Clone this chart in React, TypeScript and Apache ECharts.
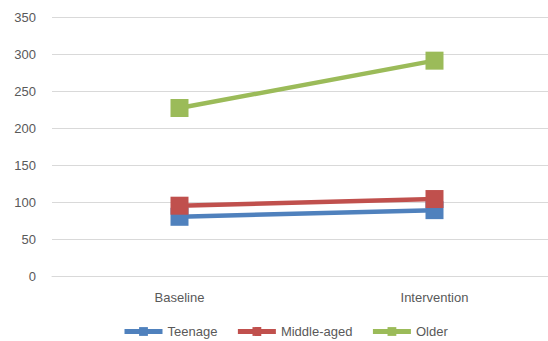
import React, { useEffect, useRef } from "react";
import * as echarts from "echarts";

const categories = ["Baseline", "Intervention"];
const teenage = [80, 89];
const middleAged = [95, 104];
const older = [227, 291];
const yTicks = { min: 0, max: 350, interval: 50 };

export default function App() {
  const ref = useRef<HTMLDivElement>(null);
  useEffect(() => {
    const chart = echarts.init(ref.current!, null, { renderer: "svg" });
    const font = "'Liberation Sans', Arial, sans-serif";
    const mk = (name: string, data: number[], color: string) => ({
      name,
      type: "line",
      data,
      symbol: "rect",
      symbolSize: 18,
      lineStyle: { width: 4.5, color },
      itemStyle: { color },
      z: 2,
    });
    chart.setOption({
      animation: false,
      backgroundColor: "#fff",
      textStyle: { fontFamily: font },
      grid: { left: 52, right: 2, top: 17, bottom: 65 },
      xAxis: {
        type: "category",
        data: categories,
        boundaryGap: true,
        axisLine: { lineStyle: { color: "#d9d9d9", width: 1 } },
        axisTick: { show: false },
        axisLabel: { color: "#595959", fontSize: 13, margin: 15, fontFamily: font },
      },
      yAxis: {
        type: "value",
        min: yTicks.min,
        max: yTicks.max,
        interval: yTicks.interval,
        axisLine: { show: false },
        axisTick: { show: false },
        axisLabel: { color: "#595959", fontSize: 13, margin: 16, fontFamily: font },
        splitLine: { lineStyle: { color: "#d9d9d9", width: 1 } },
      },
      legend: {
        left: 117,
        top: 320,
        itemWidth: 38,
        itemHeight: 11,
        itemGap: 18,
        lineStyle: { width: 5 },
        textStyle: { color: "#595959", fontSize: 13, fontFamily: font },
        data: ["Teenage", "Middle-aged", "Older"],
      },
      series: [
        mk("Teenage", teenage, "#4F81BD"),
        mk("Middle-aged", middleAged, "#C0504D"),
        mk("Older", older, "#9BBB59"),
      ],
    });
    return () => chart.dispose();
  }, []);
  return (
    <div style={{ width: 548, height: 341, position: "absolute", left: 0, top: 0, overflow: "hidden" }}>
      <div ref={ref} style={{ width: 564, height: 341 }} />
    </div>
  );
}
